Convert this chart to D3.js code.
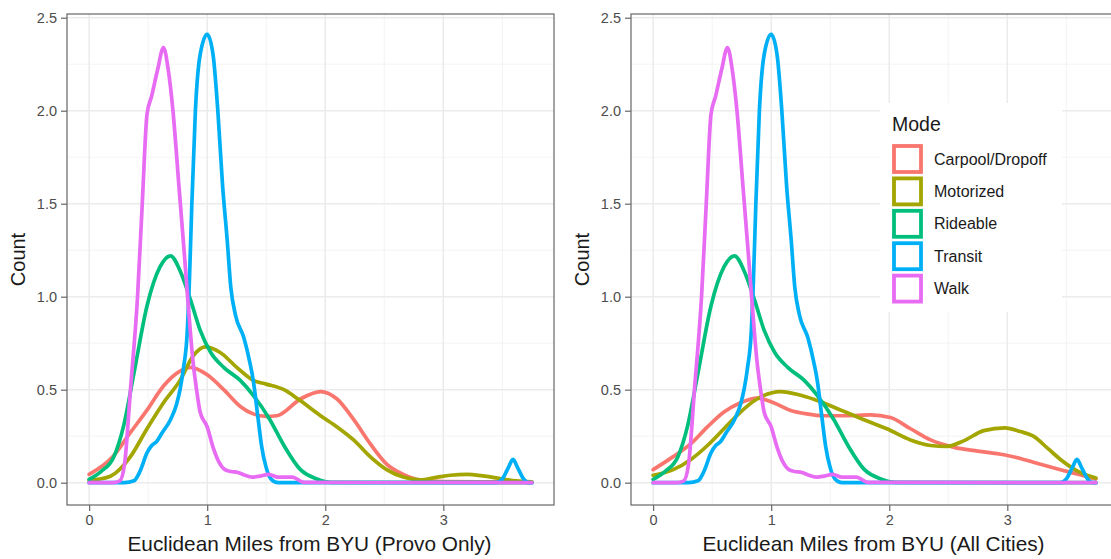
<!DOCTYPE html>
<html>
<head>
<meta charset="utf-8">
<script src="https://cdn.jsdelivr.net/npm/d3@7"></script>
<style>
  html, body { margin: 0; padding: 0; background: #fff; }
  svg { display: block; font-family: "Liberation Sans", Arial, Helvetica, sans-serif; }
</style>
</head>
<body>
<svg id="chart" width="1111" height="559"></svg>
<script>
// Density of trips by Euclidean distance from BYU, by travel mode.
const modes = ["Carpool/Dropoff", "Motorized", "Rideable", "Transit", "Walk"];
const modeColors = ["#F8766D", "#A3A500", "#00BF7D", "#00B0F6", "#E76BF3"];

const xTicks = [0, 1, 2, 3];
const xMinorTicks = [0.5, 1.5, 2.5, 3.5];
const yTicks = [0, 0.5, 1, 1.5, 2, 2.5];
const yMinorTicks = [0.25, 0.75, 1.25, 1.75, 2.25];

// [miles, density] pairs
const walk = [[0,0],[0.2,0],[0.26,0.01],[0.3,0.1],[0.35,0.5],[0.41,1.0],[0.45,1.5],[0.49,1.98],[0.53,2.08],[0.58,2.22],[0.63,2.34],[0.67,2.22],[0.71,2.0],[0.76,1.6],[0.81,1.2],[0.84,0.95],[0.88,0.65],[0.91,0.5],[0.94,0.38],[1.0,0.3],[1.05,0.19],[1.1,0.11],[1.15,0.07],[1.2,0.06],[1.26,0.055],[1.32,0.04],[1.38,0.03],[1.45,0.035],[1.52,0.045],[1.6,0.03],[1.72,0.03],[1.82,0.002],[3.75,0]];
const transit = [[0,0],[0.3,0],[0.38,0.01],[0.43,0.06],[0.49,0.16],[0.53,0.2],[0.57,0.22],[0.62,0.27],[0.69,0.34],[0.74,0.42],[0.77,0.5],[0.8,0.62],[0.83,0.8],[0.85,1.1],[0.87,1.5],[0.9,2.0],[0.94,2.3],[1.0,2.41],[1.05,2.3],[1.09,2.0],[1.13,1.6],[1.17,1.3],[1.2,1.05],[1.24,0.9],[1.31,0.78],[1.36,0.65],[1.39,0.55],[1.43,0.35],[1.46,0.2],[1.5,0.08],[1.54,0.02],[1.6,0],[3.45,0],[3.5,0.02],[3.55,0.08],[3.59,0.125],[3.63,0.08],[3.68,0.02],[3.72,0],[3.75,0]];
const rideable = [[0,0.018],[0.1,0.06],[0.21,0.14],[0.29,0.3],[0.38,0.59],[0.49,0.95],[0.6,1.16],[0.69,1.22],[0.77,1.14],[0.86,0.98],[0.94,0.82],[1.03,0.7],[1.14,0.62],[1.28,0.55],[1.39,0.47],[1.53,0.34],[1.65,0.2],[1.79,0.07],[1.93,0.02],[2.05,0.002],[3.75,0]];
const carpoolProvo = [[0,0.045],[0.2,0.14],[0.35,0.27],[0.49,0.39],[0.63,0.52],[0.77,0.6],[0.86,0.62],[1.0,0.58],[1.14,0.5],[1.28,0.41],[1.39,0.37],[1.5,0.357],[1.59,0.36],[1.79,0.45],[1.96,0.49],[2.1,0.45],[2.24,0.34],[2.38,0.21],[2.52,0.1],[2.66,0.045],[2.8,0.015],[3.0,0.006],[3.4,0.004],[3.75,0.002]];
const motorizedProvo = [[0,0.012],[0.18,0.035],[0.35,0.14],[0.49,0.29],[0.63,0.43],[0.77,0.55],[0.88,0.68],[0.98,0.73],[1.11,0.7],[1.25,0.62],[1.39,0.55],[1.5,0.53],[1.65,0.5],[1.79,0.44],[1.96,0.36],[2.1,0.3],[2.24,0.23],[2.38,0.14],[2.52,0.07],[2.66,0.03],[2.8,0.015],[2.95,0.03],[3.06,0.04],[3.2,0.045],[3.35,0.035],[3.5,0.02],[3.62,0.01],[3.75,0.005]];
const carpoolAll = [[0,0.07],[0.17,0.14],[0.32,0.21],[0.46,0.3],[0.6,0.38],[0.74,0.43],[0.88,0.455],[1.02,0.43],[1.16,0.39],[1.3,0.37],[1.45,0.36],[1.64,0.36],[1.84,0.365],[2.01,0.35],[2.18,0.29],[2.35,0.23],[2.55,0.19],[2.75,0.17],[2.97,0.15],[3.11,0.13],[3.22,0.11],[3.45,0.07],[3.6,0.045],[3.75,0.02]];
const motorizedAll = [[0,0.04],[0.17,0.07],[0.32,0.125],[0.46,0.2],[0.6,0.29],[0.74,0.38],[0.88,0.45],[1.08,0.49],[1.25,0.47],[1.42,0.435],[1.59,0.39],[1.78,0.34],[1.98,0.29],[2.18,0.23],[2.35,0.2],[2.49,0.195],[2.63,0.225],[2.8,0.28],[2.98,0.295],[3.11,0.275],[3.22,0.25],[3.35,0.18],[3.45,0.125],[3.62,0.054],[3.75,0.025]];

const panels = [
  { left: 67,  title: "Euclidean Miles from BYU (Provo Only)", series: [carpoolProvo, motorizedProvo, rideable, transit, walk] },
  { left: 631, title: "Euclidean Miles from BYU (All Cities)", series: [carpoolAll, motorizedAll, rideable, transit, walk] }
];

const plotTop = 14, plotW = 487, plotH = 491;
const svg = d3.select("#chart");
const color = d3.scaleOrdinal().domain(modes).range(modeColors);

panels.forEach(p => {
  const x = d3.scaleLinear().domain([-0.1875, 3.9375]).range([p.left, p.left + plotW]);
  const y = d3.scaleLinear().domain([-0.12, 2.52]).range([plotTop + plotH, plotTop]);
  const g = svg.append("g");

  // grid
  g.selectAll(".vmin").data(xMinorTicks).join("line")
    .attr("x1", d => x(d)).attr("x2", d => x(d)).attr("y1", plotTop).attr("y2", plotTop + plotH)
    .attr("stroke", "#f2f2f2").attr("stroke-width", 0.9);
  g.selectAll(".hmin").data(yMinorTicks).join("line")
    .attr("x1", p.left).attr("x2", p.left + plotW).attr("y1", d => y(d)).attr("y2", d => y(d))
    .attr("stroke", "#f2f2f2").attr("stroke-width", 0.9);
  g.selectAll(".vmaj").data(xTicks).join("line")
    .attr("x1", d => x(d)).attr("x2", d => x(d)).attr("y1", plotTop).attr("y2", plotTop + plotH)
    .attr("stroke", "#ebebeb").attr("stroke-width", 1.5);
  g.selectAll(".hmaj").data(yTicks).join("line")
    .attr("x1", p.left).attr("x2", p.left + plotW).attr("y1", d => y(d)).attr("y2", d => y(d))
    .attr("stroke", "#ebebeb").attr("stroke-width", 1.5);

  // density lines
  const line = d3.line().x(d => x(d[0])).y(d => y(d[1])).curve(d3.curveMonotoneX);
  p.series.forEach((s, i) => {
    g.append("path").datum(s).attr("d", line)
      .attr("fill", "none").attr("stroke", color(modes[i]))
      .attr("stroke-width", 3.7).attr("stroke-linejoin", "round").attr("stroke-linecap", "round");
  });

  // panel border
  g.append("rect").attr("x", p.left).attr("y", plotTop).attr("width", plotW).attr("height", plotH)
    .attr("fill", "none").attr("stroke", "#666").attr("stroke-width", 1.2);

  // axes
  const xAxis = d3.axisBottom(x).tickValues(xTicks).tickFormat(d3.format("d")).tickSize(6).tickPadding(4);
  const yAxis = d3.axisLeft(y).tickValues(yTicks).tickFormat(d3.format(".1f")).tickSize(6).tickPadding(4);
  const gx = g.append("g").attr("transform", `translate(0,${plotTop + plotH})`).call(xAxis);
  const gy = g.append("g").attr("transform", `translate(${p.left},0)`).call(yAxis);
  [gx, gy].forEach(a => {
    a.select(".domain").remove();
    a.selectAll(".tick line").attr("stroke", "#666").attr("stroke-width", 1.2);
    a.selectAll(".tick text").attr("fill", "#4d4d4d").style("font-size", "14.5px")
      .style("font-family", "'Liberation Sans', Arial, sans-serif");
  });

  g.append("text").attr("x", p.left + plotW / 2 - 1).attr("y", 551)
    .attr("text-anchor", "middle").attr("fill", "#1a1a1a").style("font-size", "20.8px")
    .text(p.title);
  g.append("text").attr("transform", `translate(${p.left - 42},${plotTop + plotH / 2}) rotate(-90)`)
    .attr("text-anchor", "middle").attr("fill", "#1a1a1a").style("font-size", "20px")
    .text("Count");
});

// legend
const lg = svg.append("g");
lg.append("rect").attr("x", 880).attr("y", 103).attr("width", 182).attr("height", 209).attr("fill", "#fff");
lg.append("text").attr("x", 892).attr("y", 131).attr("fill", "#1a1a1a").style("font-size", "19.5px").text("Mode");
modes.forEach((m, i) => {
  const ky = 144 + i * 32.4;
  lg.append("rect").attr("x", 894).attr("y", ky + 2).attr("width", 27).attr("height", 26)
    .attr("fill", "#fff").attr("stroke", color(m)).attr("stroke-width", 3.8);
  lg.append("text").attr("x", 934).attr("y", ky + 15).attr("dy", "0.35em")
    .attr("fill", "#1a1a1a").style("font-size", "16px").text(m);
});
</script>
</body>
</html>
